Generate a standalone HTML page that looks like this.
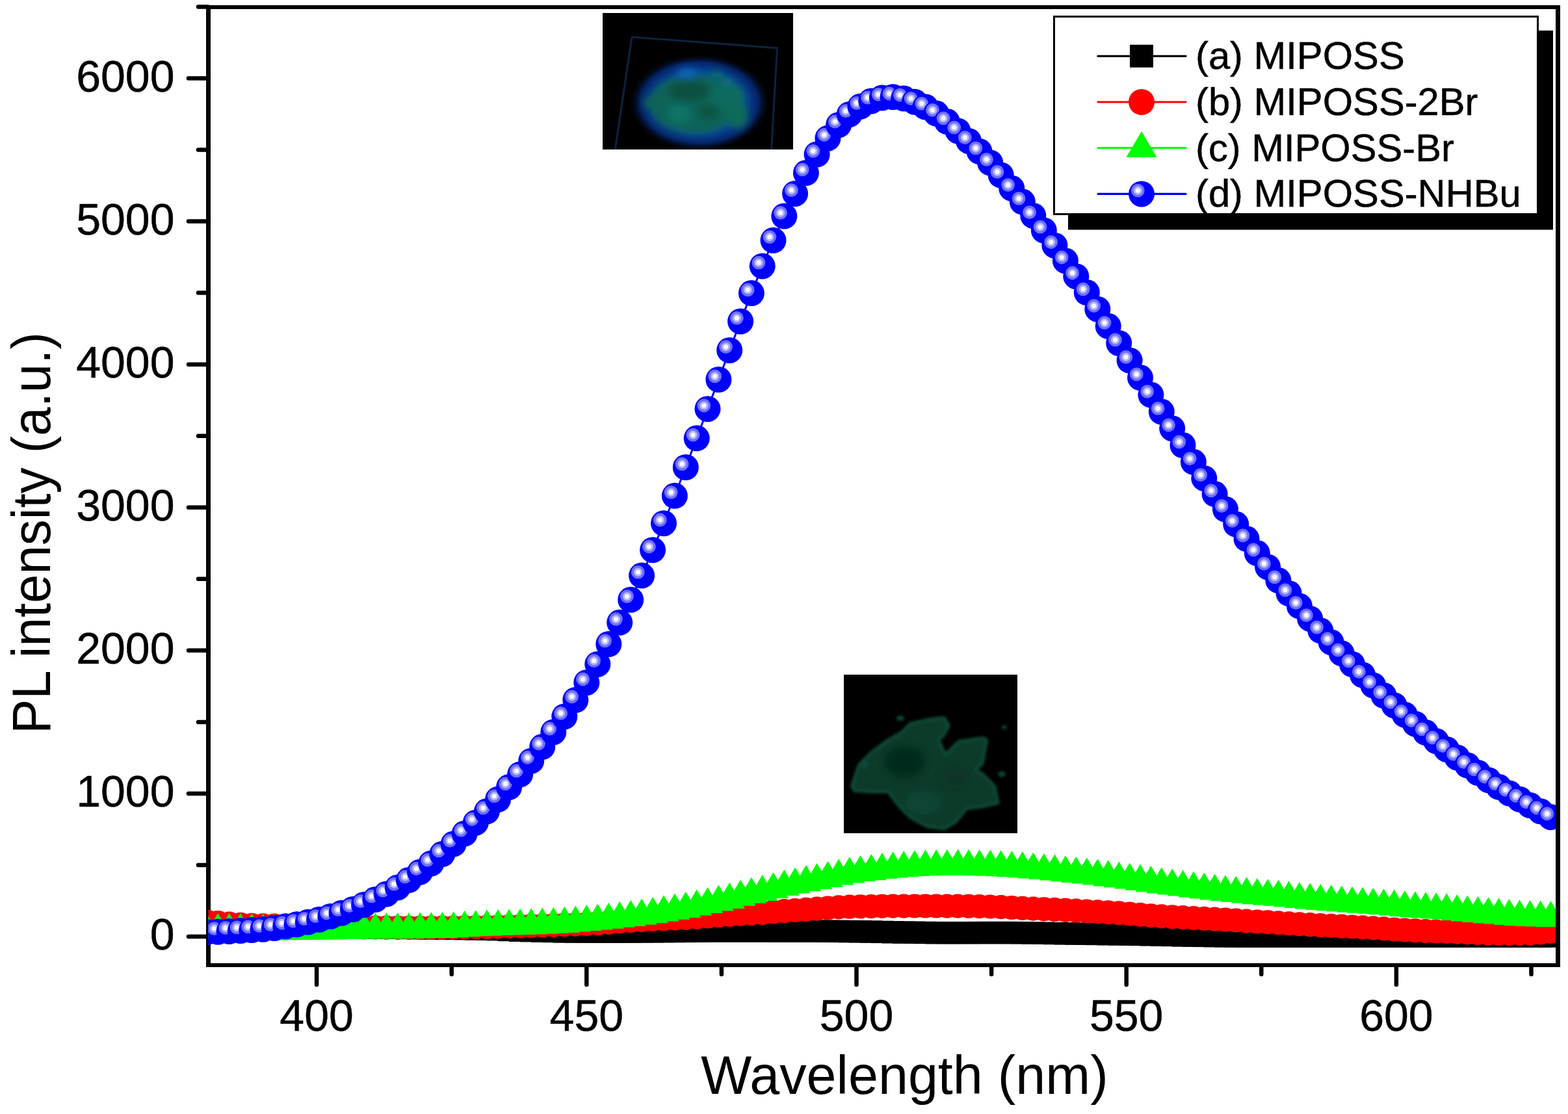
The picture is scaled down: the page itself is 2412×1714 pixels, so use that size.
<!DOCTYPE html><html><head><meta charset="utf-8"><title>PL spectra</title><style>html,body{margin:0;padding:0;background:#fff;overflow:hidden}svg{display:block}</style></head><body>
<svg width="2412" height="1714" viewBox="0 0 2412 1714" font-family="Liberation Sans, Arial, sans-serif">
<defs>
<clipPath id="plot"><rect x="320.5" y="11" width="2072.5" height="1474"/></clipPath>
<g id="ball"><circle r="20" fill="#00f"/><circle cx="-5.7" cy="-5.2" r="10.4" fill="#7070ff"/><circle cx="-5.7" cy="-5.2" r="6.6" fill="#b4b4ff"/><circle cx="-5.7" cy="-5.2" r="3.6" fill="#f8f8ff"/></g>
<filter id="b2" x="-20%" y="-20%" width="140%" height="140%"><feGaussianBlur stdDeviation="2"/></filter>
<filter id="b6" x="-30%" y="-30%" width="160%" height="160%"><feGaussianBlur stdDeviation="6"/></filter>
<filter id="b12" x="-50%" y="-50%" width="200%" height="200%"><feGaussianBlur stdDeviation="12"/></filter>
<radialGradient id="glow" cx="50%" cy="50%" r="50%"><stop offset="0" stop-color="#0a5a80"/><stop offset="0.6" stop-color="#0848a4"/><stop offset="0.82" stop-color="#052468"/><stop offset="1" stop-color="#000" stop-opacity="0"/></radialGradient>
<clipPath id="in1"><rect x="927" y="20" width="293" height="210"/></clipPath>
<clipPath id="in2"><rect x="1298" y="1038" width="267" height="244"/></clipPath>
</defs>
<rect width="2412" height="1714" fill="#fff"/>
<g fill="#000">
<rect x="317" y="8" width="7" height="1480"/>
<rect x="2393" y="8" width="7" height="1480"/>
<rect x="317" y="8" width="2083" height="6"/>
<rect x="317" y="1482" width="2083" height="6"/>
</g>
<g stroke="#000" stroke-width="6.5" stroke-linecap="round">
<line x1="290" y1="1441.0" x2="320" y2="1441.0"/>
<line x1="305" y1="1331.0" x2="320" y2="1331.0"/>
<line x1="290" y1="1220.9" x2="320" y2="1220.9"/>
<line x1="305" y1="1110.9" x2="320" y2="1110.9"/>
<line x1="290" y1="1000.8" x2="320" y2="1000.8"/>
<line x1="305" y1="890.8" x2="320" y2="890.8"/>
<line x1="290" y1="780.8" x2="320" y2="780.8"/>
<line x1="305" y1="670.7" x2="320" y2="670.7"/>
<line x1="290" y1="560.7" x2="320" y2="560.7"/>
<line x1="305" y1="450.6" x2="320" y2="450.6"/>
<line x1="290" y1="340.6" x2="320" y2="340.6"/>
<line x1="305" y1="230.5" x2="320" y2="230.5"/>
<line x1="290" y1="120.5" x2="320" y2="120.5"/>
<line x1="305" y1="10.5" x2="320" y2="10.5"/>
<line x1="487.1" y1="1485" x2="487.1" y2="1515"/>
<line x1="694.7" y1="1485" x2="694.7" y2="1499"/>
<line x1="902.3" y1="1485" x2="902.3" y2="1515"/>
<line x1="1109.9" y1="1485" x2="1109.9" y2="1499"/>
<line x1="1317.5" y1="1485" x2="1317.5" y2="1515"/>
<line x1="1525.1" y1="1485" x2="1525.1" y2="1499"/>
<line x1="1732.7" y1="1485" x2="1732.7" y2="1515"/>
<line x1="1940.3" y1="1485" x2="1940.3" y2="1499"/>
<line x1="2147.9" y1="1485" x2="2147.9" y2="1515"/>
<line x1="2355.5" y1="1485" x2="2355.5" y2="1499"/>
</g>
<g clip-path="url(#plot)">
<polyline points="317.8,1427.3 335.2,1427.3 352.6,1427.3 369.9,1427.3 387.3,1427.4 404.6,1427.4 421.9,1427.4 439.3,1427.4 456.6,1427.4 473.8,1427.4 491.1,1427.4 508.4,1427.4 525.6,1427.5 542.9,1427.5 560.1,1427.5 577.3,1427.5 594.6,1427.5 611.8,1427.7 628.9,1427.9 646.1,1428.1 663.3,1428.4 680.4,1428.6 697.6,1428.9 714.7,1429.1 731.8,1429.4 748.9,1429.7 766,1430.2 783.1,1431 800.1,1431.7 817.2,1432.2 834.2,1432.6 851.3,1433 868.3,1433.4 885.3,1433.5 902.3,1433.6 919.3,1433.6 936.3,1433.7 953.2,1433.6 970.2,1433.6 987.1,1433.4 1004.1,1433.3 1021,1433.2 1037.9,1433 1054.8,1432.9 1071.7,1432.7 1088.5,1432.5 1105.4,1432.4 1122.2,1432.4 1139.1,1432.4 1155.9,1432.4 1172.7,1432.4 1189.5,1432.5 1206.3,1432.5 1223.1,1432.5 1239.9,1432.5 1256.6,1432.6 1273.4,1432.8 1290.1,1432.9 1306.8,1433.1 1323.5,1433.3 1340.2,1433.6 1356.9,1433.9 1373.6,1434.3 1390.2,1434.6 1406.9,1434.8 1423.5,1435 1440.2,1435.2 1456.8,1435.2 1473.4,1435.2 1490,1435.2 1506.6,1435.1 1523.2,1435.1 1539.7,1435.1 1556.3,1435.1 1572.8,1435.3 1589.3,1435.6 1605.8,1435.8 1622.4,1436.1 1638.9,1436.3 1655.3,1436.6 1671.8,1436.8 1688.3,1437 1704.7,1437.3 1721.2,1437.5 1737.6,1437.7 1754,1438 1770.4,1438.3 1786.8,1438.7 1803.2,1439 1819.5,1439.4 1835.9,1439.7 1852.3,1439.9 1868.6,1440.2 1884.9,1440.4 1901.2,1440.5 1917.5,1440.6 1933.8,1440.6 1950.1,1440.6 1966.4,1440.6 1982.6,1440.6 1998.9,1440.6 2015.1,1440.6 2031.3,1440.6 2047.6,1440.6 2063.8,1440.6 2080,1440.6 2096.1,1440.6 2112.3,1440.6 2128.5,1440.6 2144.6,1440.6 2160.8,1440.6 2176.9,1440.6 2193,1440.6 2209.1,1440.6 2225.2,1440.6 2241.3,1440.6 2257.3,1440.6 2273.4,1440.6 2289.5,1440.6 2305.5,1440.6 2321.5,1440.6 2337.5,1440.6 2353.5,1440.6 2369.5,1440.6 2385.5,1440.6" fill="none" stroke="#000" stroke-width="3" stroke-linejoin="round"/>
<g fill="#000"><rect x="300.6" y="1410.1" width="34.4" height="34.4"/><rect x="318" y="1410.1" width="34.4" height="34.4"/><rect x="335.4" y="1410.1" width="34.4" height="34.4"/><rect x="352.7" y="1410.1" width="34.4" height="34.4"/><rect x="370.1" y="1410.2" width="34.4" height="34.4"/><rect x="387.4" y="1410.2" width="34.4" height="34.4"/><rect x="404.7" y="1410.2" width="34.4" height="34.4"/><rect x="422.1" y="1410.2" width="34.4" height="34.4"/><rect x="439.4" y="1410.2" width="34.4" height="34.4"/><rect x="456.6" y="1410.2" width="34.4" height="34.4"/><rect x="473.9" y="1410.2" width="34.4" height="34.4"/><rect x="491.2" y="1410.2" width="34.4" height="34.4"/><rect x="508.4" y="1410.3" width="34.4" height="34.4"/><rect x="525.7" y="1410.3" width="34.4" height="34.4"/><rect x="542.9" y="1410.3" width="34.4" height="34.4"/><rect x="560.1" y="1410.3" width="34.4" height="34.4"/><rect x="577.4" y="1410.3" width="34.4" height="34.4"/><rect x="594.6" y="1410.5" width="34.4" height="34.4"/><rect x="611.7" y="1410.7" width="34.4" height="34.4"/><rect x="628.9" y="1410.9" width="34.4" height="34.4"/><rect x="646.1" y="1411.2" width="34.4" height="34.4"/><rect x="663.2" y="1411.4" width="34.4" height="34.4"/><rect x="680.4" y="1411.7" width="34.4" height="34.4"/><rect x="697.5" y="1411.9" width="34.4" height="34.4"/><rect x="714.6" y="1412.2" width="34.4" height="34.4"/><rect x="731.7" y="1412.5" width="34.4" height="34.4"/><rect x="748.8" y="1413" width="34.4" height="34.4"/><rect x="765.9" y="1413.8" width="34.4" height="34.4"/><rect x="782.9" y="1414.5" width="34.4" height="34.4"/><rect x="800" y="1415" width="34.4" height="34.4"/><rect x="817" y="1415.4" width="34.4" height="34.4"/><rect x="834.1" y="1415.8" width="34.4" height="34.4"/><rect x="851.1" y="1416.2" width="34.4" height="34.4"/><rect x="868.1" y="1416.3" width="34.4" height="34.4"/><rect x="885.1" y="1416.4" width="34.4" height="34.4"/><rect x="902.1" y="1416.4" width="34.4" height="34.4"/><rect x="919.1" y="1416.5" width="34.4" height="34.4"/><rect x="936" y="1416.4" width="34.4" height="34.4"/><rect x="953" y="1416.4" width="34.4" height="34.4"/><rect x="969.9" y="1416.2" width="34.4" height="34.4"/><rect x="986.9" y="1416.1" width="34.4" height="34.4"/><rect x="1003.8" y="1416" width="34.4" height="34.4"/><rect x="1020.7" y="1415.8" width="34.4" height="34.4"/><rect x="1037.6" y="1415.7" width="34.4" height="34.4"/><rect x="1054.5" y="1415.5" width="34.4" height="34.4"/><rect x="1071.3" y="1415.3" width="34.4" height="34.4"/><rect x="1088.2" y="1415.2" width="34.4" height="34.4"/><rect x="1105" y="1415.2" width="34.4" height="34.4"/><rect x="1121.9" y="1415.2" width="34.4" height="34.4"/><rect x="1138.7" y="1415.2" width="34.4" height="34.4"/><rect x="1155.5" y="1415.2" width="34.4" height="34.4"/><rect x="1172.3" y="1415.3" width="34.4" height="34.4"/><rect x="1189.1" y="1415.3" width="34.4" height="34.4"/><rect x="1205.9" y="1415.3" width="34.4" height="34.4"/><rect x="1222.7" y="1415.3" width="34.4" height="34.4"/><rect x="1239.4" y="1415.4" width="34.4" height="34.4"/><rect x="1256.2" y="1415.6" width="34.4" height="34.4"/><rect x="1272.9" y="1415.7" width="34.4" height="34.4"/><rect x="1289.6" y="1415.9" width="34.4" height="34.4"/><rect x="1306.3" y="1416.1" width="34.4" height="34.4"/><rect x="1323" y="1416.4" width="34.4" height="34.4"/><rect x="1339.7" y="1416.7" width="34.4" height="34.4"/><rect x="1356.4" y="1417.1" width="34.4" height="34.4"/><rect x="1373" y="1417.4" width="34.4" height="34.4"/><rect x="1389.7" y="1417.6" width="34.4" height="34.4"/><rect x="1406.3" y="1417.8" width="34.4" height="34.4"/><rect x="1423" y="1418" width="34.4" height="34.4"/><rect x="1439.6" y="1418" width="34.4" height="34.4"/><rect x="1456.2" y="1418" width="34.4" height="34.4"/><rect x="1472.8" y="1418" width="34.4" height="34.4"/><rect x="1489.4" y="1417.9" width="34.4" height="34.4"/><rect x="1506" y="1417.9" width="34.4" height="34.4"/><rect x="1522.5" y="1417.9" width="34.4" height="34.4"/><rect x="1539.1" y="1417.9" width="34.4" height="34.4"/><rect x="1555.6" y="1418.1" width="34.4" height="34.4"/><rect x="1572.1" y="1418.4" width="34.4" height="34.4"/><rect x="1588.6" y="1418.6" width="34.4" height="34.4"/><rect x="1605.2" y="1418.9" width="34.4" height="34.4"/><rect x="1621.7" y="1419.1" width="34.4" height="34.4"/><rect x="1638.1" y="1419.4" width="34.4" height="34.4"/><rect x="1654.6" y="1419.6" width="34.4" height="34.4"/><rect x="1671.1" y="1419.8" width="34.4" height="34.4"/><rect x="1687.5" y="1420.1" width="34.4" height="34.4"/><rect x="1704" y="1420.3" width="34.4" height="34.4"/><rect x="1720.4" y="1420.5" width="34.4" height="34.4"/><rect x="1736.8" y="1420.8" width="34.4" height="34.4"/><rect x="1753.2" y="1421.1" width="34.4" height="34.4"/><rect x="1769.6" y="1421.5" width="34.4" height="34.4"/><rect x="1786" y="1421.8" width="34.4" height="34.4"/><rect x="1802.3" y="1422.2" width="34.4" height="34.4"/><rect x="1818.7" y="1422.5" width="34.4" height="34.4"/><rect x="1835.1" y="1422.7" width="34.4" height="34.4"/><rect x="1851.4" y="1423" width="34.4" height="34.4"/><rect x="1867.7" y="1423.2" width="34.4" height="34.4"/><rect x="1884" y="1423.3" width="34.4" height="34.4"/><rect x="1900.3" y="1423.4" width="34.4" height="34.4"/><rect x="1916.6" y="1423.4" width="34.4" height="34.4"/><rect x="1932.9" y="1423.4" width="34.4" height="34.4"/><rect x="1949.2" y="1423.4" width="34.4" height="34.4"/><rect x="1965.4" y="1423.4" width="34.4" height="34.4"/><rect x="1981.7" y="1423.4" width="34.4" height="34.4"/><rect x="1997.9" y="1423.4" width="34.4" height="34.4"/><rect x="2014.1" y="1423.4" width="34.4" height="34.4"/><rect x="2030.4" y="1423.4" width="34.4" height="34.4"/><rect x="2046.6" y="1423.4" width="34.4" height="34.4"/><rect x="2062.8" y="1423.4" width="34.4" height="34.4"/><rect x="2078.9" y="1423.4" width="34.4" height="34.4"/><rect x="2095.1" y="1423.4" width="34.4" height="34.4"/><rect x="2111.3" y="1423.4" width="34.4" height="34.4"/><rect x="2127.4" y="1423.4" width="34.4" height="34.4"/><rect x="2143.6" y="1423.4" width="34.4" height="34.4"/><rect x="2159.7" y="1423.4" width="34.4" height="34.4"/><rect x="2175.8" y="1423.4" width="34.4" height="34.4"/><rect x="2191.9" y="1423.4" width="34.4" height="34.4"/><rect x="2208" y="1423.4" width="34.4" height="34.4"/><rect x="2224.1" y="1423.4" width="34.4" height="34.4"/><rect x="2240.1" y="1423.4" width="34.4" height="34.4"/><rect x="2256.2" y="1423.4" width="34.4" height="34.4"/><rect x="2272.3" y="1423.4" width="34.4" height="34.4"/><rect x="2288.3" y="1423.4" width="34.4" height="34.4"/><rect x="2304.3" y="1423.4" width="34.4" height="34.4"/><rect x="2320.3" y="1423.4" width="34.4" height="34.4"/><rect x="2336.3" y="1423.4" width="34.4" height="34.4"/><rect x="2352.3" y="1423.4" width="34.4" height="34.4"/><rect x="2368.3" y="1423.4" width="34.4" height="34.4"/></g>
<polyline points="317.8,1417.7 335.2,1419.5 352.6,1421.1 369.9,1422.4 387.3,1423.4 404.6,1423.9 421.9,1424 439.3,1424.3 456.6,1424.6 473.8,1425 491.1,1425.5 508.4,1425.9 525.6,1426.2 542.9,1426.5 560.1,1426.8 577.3,1427 594.6,1427.2 611.8,1427.3 628.9,1427.4 646.1,1427.4 663.3,1427.3 680.4,1427.2 697.6,1427 714.7,1426.7 731.8,1426.5 748.9,1426.2 766,1425.8 783.1,1425.4 800.1,1425 817.2,1424.5 834.2,1424 851.3,1423.4 868.3,1422.7 885.3,1422.1 902.3,1421.3 919.3,1420.5 936.3,1419.3 953.2,1417.9 970.2,1416.6 987.1,1415.5 1004.1,1414.5 1021,1413.7 1037.9,1413.1 1054.8,1412.3 1071.7,1411.2 1088.5,1410 1105.4,1408.7 1122.2,1407.4 1139.1,1406.2 1155.9,1405.3 1172.7,1404.3 1189.5,1403 1206.3,1401.7 1223.1,1400.6 1239.9,1399.4 1256.6,1398.2 1273.4,1397 1290.1,1395.9 1306.8,1395.2 1323.5,1394.8 1340.2,1394.6 1356.9,1394.3 1373.6,1394.1 1390.2,1394.1 1406.9,1394 1423.5,1394 1440.2,1394 1456.8,1394.1 1473.4,1394.1 1490,1394.3 1506.6,1394.6 1523.2,1395 1539.7,1395.6 1556.3,1396.5 1572.8,1397.4 1589.3,1398.1 1605.8,1398.8 1622.4,1399.5 1638.9,1400.3 1655.3,1401.1 1671.8,1402 1688.3,1402.9 1704.7,1403.8 1721.2,1404.8 1737.6,1406 1754,1407.4 1770.4,1408.8 1786.8,1409.9 1803.2,1410.8 1819.5,1411.6 1835.9,1412.5 1852.3,1413.4 1868.6,1414.2 1884.9,1415 1901.2,1416 1917.5,1417.1 1933.8,1418 1950.1,1418.8 1966.4,1419.9 1982.6,1420.9 1998.9,1421.9 2015.1,1422.7 2031.3,1423.6 2047.6,1424.4 2063.8,1425.2 2080,1426 2096.1,1426.9 2112.3,1427.9 2128.5,1428.9 2144.6,1430 2160.8,1431 2176.9,1431.8 2193,1432.5 2209.1,1433 2225.2,1433.4 2241.3,1434.1 2257.3,1434.9 2273.4,1435.5 2289.5,1436 2305.5,1436.2 2321.5,1436.4 2337.5,1436.4 2353.5,1436.1 2369.5,1435 2385.5,1433.3" fill="none" stroke="#f00" stroke-width="3" stroke-linejoin="round"/>
<g fill="#f00"><circle cx="317.8" cy="1417.7" r="18.6"/><circle cx="335.2" cy="1419.5" r="18.6"/><circle cx="352.6" cy="1421.1" r="18.6"/><circle cx="369.9" cy="1422.4" r="18.6"/><circle cx="387.3" cy="1423.4" r="18.6"/><circle cx="404.6" cy="1423.9" r="18.6"/><circle cx="421.9" cy="1424" r="18.6"/><circle cx="439.3" cy="1424.3" r="18.6"/><circle cx="456.6" cy="1424.6" r="18.6"/><circle cx="473.8" cy="1425" r="18.6"/><circle cx="491.1" cy="1425.5" r="18.6"/><circle cx="508.4" cy="1425.9" r="18.6"/><circle cx="525.6" cy="1426.2" r="18.6"/><circle cx="542.9" cy="1426.5" r="18.6"/><circle cx="560.1" cy="1426.8" r="18.6"/><circle cx="577.3" cy="1427" r="18.6"/><circle cx="594.6" cy="1427.2" r="18.6"/><circle cx="611.8" cy="1427.3" r="18.6"/><circle cx="628.9" cy="1427.4" r="18.6"/><circle cx="646.1" cy="1427.4" r="18.6"/><circle cx="663.3" cy="1427.3" r="18.6"/><circle cx="680.4" cy="1427.2" r="18.6"/><circle cx="697.6" cy="1427" r="18.6"/><circle cx="714.7" cy="1426.7" r="18.6"/><circle cx="731.8" cy="1426.5" r="18.6"/><circle cx="748.9" cy="1426.2" r="18.6"/><circle cx="766" cy="1425.8" r="18.6"/><circle cx="783.1" cy="1425.4" r="18.6"/><circle cx="800.1" cy="1425" r="18.6"/><circle cx="817.2" cy="1424.5" r="18.6"/><circle cx="834.2" cy="1424" r="18.6"/><circle cx="851.3" cy="1423.4" r="18.6"/><circle cx="868.3" cy="1422.7" r="18.6"/><circle cx="885.3" cy="1422.1" r="18.6"/><circle cx="902.3" cy="1421.3" r="18.6"/><circle cx="919.3" cy="1420.5" r="18.6"/><circle cx="936.3" cy="1419.3" r="18.6"/><circle cx="953.2" cy="1417.9" r="18.6"/><circle cx="970.2" cy="1416.6" r="18.6"/><circle cx="987.1" cy="1415.5" r="18.6"/><circle cx="1004.1" cy="1414.5" r="18.6"/><circle cx="1021" cy="1413.7" r="18.6"/><circle cx="1037.9" cy="1413.1" r="18.6"/><circle cx="1054.8" cy="1412.3" r="18.6"/><circle cx="1071.7" cy="1411.2" r="18.6"/><circle cx="1088.5" cy="1410" r="18.6"/><circle cx="1105.4" cy="1408.7" r="18.6"/><circle cx="1122.2" cy="1407.4" r="18.6"/><circle cx="1139.1" cy="1406.2" r="18.6"/><circle cx="1155.9" cy="1405.3" r="18.6"/><circle cx="1172.7" cy="1404.3" r="18.6"/><circle cx="1189.5" cy="1403" r="18.6"/><circle cx="1206.3" cy="1401.7" r="18.6"/><circle cx="1223.1" cy="1400.6" r="18.6"/><circle cx="1239.9" cy="1399.4" r="18.6"/><circle cx="1256.6" cy="1398.2" r="18.6"/><circle cx="1273.4" cy="1397" r="18.6"/><circle cx="1290.1" cy="1395.9" r="18.6"/><circle cx="1306.8" cy="1395.2" r="18.6"/><circle cx="1323.5" cy="1394.8" r="18.6"/><circle cx="1340.2" cy="1394.6" r="18.6"/><circle cx="1356.9" cy="1394.3" r="18.6"/><circle cx="1373.6" cy="1394.1" r="18.6"/><circle cx="1390.2" cy="1394.1" r="18.6"/><circle cx="1406.9" cy="1394" r="18.6"/><circle cx="1423.5" cy="1394" r="18.6"/><circle cx="1440.2" cy="1394" r="18.6"/><circle cx="1456.8" cy="1394.1" r="18.6"/><circle cx="1473.4" cy="1394.1" r="18.6"/><circle cx="1490" cy="1394.3" r="18.6"/><circle cx="1506.6" cy="1394.6" r="18.6"/><circle cx="1523.2" cy="1395" r="18.6"/><circle cx="1539.7" cy="1395.6" r="18.6"/><circle cx="1556.3" cy="1396.5" r="18.6"/><circle cx="1572.8" cy="1397.4" r="18.6"/><circle cx="1589.3" cy="1398.1" r="18.6"/><circle cx="1605.8" cy="1398.8" r="18.6"/><circle cx="1622.4" cy="1399.5" r="18.6"/><circle cx="1638.9" cy="1400.3" r="18.6"/><circle cx="1655.3" cy="1401.1" r="18.6"/><circle cx="1671.8" cy="1402" r="18.6"/><circle cx="1688.3" cy="1402.9" r="18.6"/><circle cx="1704.7" cy="1403.8" r="18.6"/><circle cx="1721.2" cy="1404.8" r="18.6"/><circle cx="1737.6" cy="1406" r="18.6"/><circle cx="1754" cy="1407.4" r="18.6"/><circle cx="1770.4" cy="1408.8" r="18.6"/><circle cx="1786.8" cy="1409.9" r="18.6"/><circle cx="1803.2" cy="1410.8" r="18.6"/><circle cx="1819.5" cy="1411.6" r="18.6"/><circle cx="1835.9" cy="1412.5" r="18.6"/><circle cx="1852.3" cy="1413.4" r="18.6"/><circle cx="1868.6" cy="1414.2" r="18.6"/><circle cx="1884.9" cy="1415" r="18.6"/><circle cx="1901.2" cy="1416" r="18.6"/><circle cx="1917.5" cy="1417.1" r="18.6"/><circle cx="1933.8" cy="1418" r="18.6"/><circle cx="1950.1" cy="1418.8" r="18.6"/><circle cx="1966.4" cy="1419.9" r="18.6"/><circle cx="1982.6" cy="1420.9" r="18.6"/><circle cx="1998.9" cy="1421.9" r="18.6"/><circle cx="2015.1" cy="1422.7" r="18.6"/><circle cx="2031.3" cy="1423.6" r="18.6"/><circle cx="2047.6" cy="1424.4" r="18.6"/><circle cx="2063.8" cy="1425.2" r="18.6"/><circle cx="2080" cy="1426" r="18.6"/><circle cx="2096.1" cy="1426.9" r="18.6"/><circle cx="2112.3" cy="1427.9" r="18.6"/><circle cx="2128.5" cy="1428.9" r="18.6"/><circle cx="2144.6" cy="1430" r="18.6"/><circle cx="2160.8" cy="1431" r="18.6"/><circle cx="2176.9" cy="1431.8" r="18.6"/><circle cx="2193" cy="1432.5" r="18.6"/><circle cx="2209.1" cy="1433" r="18.6"/><circle cx="2225.2" cy="1433.4" r="18.6"/><circle cx="2241.3" cy="1434.1" r="18.6"/><circle cx="2257.3" cy="1434.9" r="18.6"/><circle cx="2273.4" cy="1435.5" r="18.6"/><circle cx="2289.5" cy="1436" r="18.6"/><circle cx="2305.5" cy="1436.2" r="18.6"/><circle cx="2321.5" cy="1436.4" r="18.6"/><circle cx="2337.5" cy="1436.4" r="18.6"/><circle cx="2353.5" cy="1436.1" r="18.6"/><circle cx="2369.5" cy="1435" r="18.6"/><circle cx="2385.5" cy="1433.3" r="18.6"/></g>
<polyline points="317.8,1430.7 335.2,1430.7 352.6,1430.7 369.9,1430.7 387.3,1431 404.6,1431.5 421.9,1431.9 439.3,1431.8 456.6,1431.6 473.8,1431.3 491.1,1431.1 508.4,1430.9 525.6,1430.6 542.9,1430.3 560.1,1430 577.3,1429.8 594.6,1429.7 611.8,1429.7 628.9,1429.5 646.1,1429 663.3,1428.8 680.4,1428.6 697.6,1427.8 714.7,1426.7 731.8,1425.8 748.9,1425.2 766,1424.6 783.1,1424.1 800.1,1423.5 817.2,1422.9 834.2,1422.2 851.3,1421.4 868.3,1420.4 885.3,1419 902.3,1417.6 919.3,1416.1 936.3,1414.3 953.2,1412.3 970.2,1410.4 987.1,1408.2 1004.1,1405.7 1021,1402.9 1037.9,1400.2 1054.8,1397.4 1071.7,1394.1 1088.5,1390.6 1105.4,1387.1 1122.2,1383.4 1139.1,1379.2 1155.9,1375.3 1172.7,1371.5 1189.5,1367.5 1206.3,1363.6 1223.1,1360 1239.9,1356.7 1256.6,1353.6 1273.4,1350.4 1290.1,1347 1306.8,1343.9 1323.5,1341.6 1340.2,1339.7 1356.9,1337.6 1373.6,1335.9 1390.2,1334.6 1406.9,1333.6 1423.5,1332.8 1440.2,1332.6 1456.8,1332.3 1473.4,1332.1 1490,1332.4 1506.6,1332.7 1523.2,1333 1539.7,1333.7 1556.3,1334.7 1572.8,1335.7 1589.3,1337 1605.8,1338.5 1622.4,1340 1638.9,1341.8 1655.3,1343.5 1671.8,1345 1688.3,1346.9 1704.7,1348.9 1721.2,1351 1737.6,1353 1754,1355.2 1770.4,1357.7 1786.8,1360 1803.2,1362 1819.5,1364.1 1835.9,1366.1 1852.3,1368.1 1868.6,1370.1 1884.9,1371.8 1901.2,1373.3 1917.5,1375 1933.8,1376.7 1950.1,1377.9 1966.4,1379.2 1982.6,1380.8 1998.9,1382.5 2015.1,1384 2031.3,1385.5 2047.6,1386.8 2063.8,1388.1 2080,1389.3 2096.1,1390.3 2112.3,1391.5 2128.5,1392.8 2144.6,1394 2160.8,1395.5 2176.9,1396.9 2193,1397.9 2209.1,1398.9 2225.2,1400.1 2241.3,1401.6 2257.3,1403.1 2273.4,1404.6 2289.5,1405.9 2305.5,1407.1 2321.5,1408.6 2337.5,1409.8 2353.5,1410.6 2369.5,1411.1 2385.5,1411.7" fill="none" stroke="#0f0" stroke-width="3" stroke-linejoin="round"/>
<g fill="#0f0"><path d="M317.8 1405.1L341.4 1445.2H294.2Z"/><path d="M335.2 1405.1L358.8 1445.2H311.6Z"/><path d="M352.6 1405.1L376.2 1445.2H329Z"/><path d="M369.9 1405.1L393.5 1445.2H346.3Z"/><path d="M387.3 1405.4L410.9 1445.5H363.7Z"/><path d="M404.6 1405.9L428.2 1446H381Z"/><path d="M421.9 1406.3L445.5 1446.4H398.3Z"/><path d="M439.3 1406.2L462.9 1446.3H415.7Z"/><path d="M456.6 1406L480.2 1446.1H433Z"/><path d="M473.8 1405.7L497.4 1445.8H450.2Z"/><path d="M491.1 1405.5L514.7 1445.6H467.5Z"/><path d="M508.4 1405.3L532 1445.4H484.8Z"/><path d="M525.6 1405L549.2 1445.1H502Z"/><path d="M542.9 1404.7L566.5 1444.8H519.3Z"/><path d="M560.1 1404.4L583.7 1444.5H536.5Z"/><path d="M577.3 1404.2L600.9 1444.3H553.7Z"/><path d="M594.6 1404.1L618.2 1444.2H571Z"/><path d="M611.8 1404.1L635.4 1444.2H588.2Z"/><path d="M628.9 1403.9L652.5 1444H605.3Z"/><path d="M646.1 1403.4L669.7 1443.5H622.5Z"/><path d="M663.3 1403.2L686.9 1443.3H639.7Z"/><path d="M680.4 1403L704 1443.1H656.8Z"/><path d="M697.6 1402.2L721.2 1442.3H674Z"/><path d="M714.7 1401.1L738.3 1441.2H691.1Z"/><path d="M731.8 1400.2L755.4 1440.3H708.2Z"/><path d="M748.9 1399.6L772.5 1439.7H725.3Z"/><path d="M766 1399L789.6 1439.1H742.4Z"/><path d="M783.1 1398.5L806.7 1438.6H759.5Z"/><path d="M800.1 1397.9L823.7 1438H776.5Z"/><path d="M817.2 1397.3L840.8 1437.4H793.6Z"/><path d="M834.2 1396.6L857.8 1436.7H810.6Z"/><path d="M851.3 1395.8L874.9 1435.9H827.7Z"/><path d="M868.3 1394.8L891.9 1434.9H844.7Z"/><path d="M885.3 1393.4L908.9 1433.5H861.7Z"/><path d="M902.3 1392L925.9 1432.1H878.7Z"/><path d="M919.3 1390.5L942.9 1430.6H895.7Z"/><path d="M936.3 1388.7L959.9 1428.8H912.7Z"/><path d="M953.2 1386.7L976.8 1426.8H929.6Z"/><path d="M970.2 1384.8L993.8 1424.9H946.6Z"/><path d="M987.1 1382.6L1010.7 1422.7H963.5Z"/><path d="M1004.1 1380.1L1027.7 1420.2H980.5Z"/><path d="M1021 1377.3L1044.6 1417.4H997.4Z"/><path d="M1037.9 1374.6L1061.5 1414.7H1014.3Z"/><path d="M1054.8 1371.8L1078.4 1411.9H1031.2Z"/><path d="M1071.7 1368.5L1095.3 1408.6H1048.1Z"/><path d="M1088.5 1365L1112.1 1405.1H1064.9Z"/><path d="M1105.4 1361.5L1129 1401.6H1081.8Z"/><path d="M1122.2 1357.8L1145.8 1397.9H1098.6Z"/><path d="M1139.1 1353.6L1162.7 1393.7H1115.5Z"/><path d="M1155.9 1349.7L1179.5 1389.8H1132.3Z"/><path d="M1172.7 1345.9L1196.3 1386H1149.1Z"/><path d="M1189.5 1341.9L1213.1 1382H1165.9Z"/><path d="M1206.3 1338L1229.9 1378.1H1182.7Z"/><path d="M1223.1 1334.4L1246.7 1374.5H1199.5Z"/><path d="M1239.9 1331.1L1263.5 1371.2H1216.3Z"/><path d="M1256.6 1328L1280.2 1368.1H1233Z"/><path d="M1273.4 1324.8L1297 1364.9H1249.8Z"/><path d="M1290.1 1321.4L1313.7 1361.5H1266.5Z"/><path d="M1306.8 1318.3L1330.4 1358.4H1283.2Z"/><path d="M1323.5 1316L1347.1 1356.1H1299.9Z"/><path d="M1340.2 1314.1L1363.8 1354.2H1316.6Z"/><path d="M1356.9 1312L1380.5 1352.1H1333.3Z"/><path d="M1373.6 1310.3L1397.2 1350.4H1350Z"/><path d="M1390.2 1309L1413.8 1349.1H1366.6Z"/><path d="M1406.9 1308L1430.5 1348.1H1383.3Z"/><path d="M1423.5 1307.2L1447.1 1347.3H1399.9Z"/><path d="M1440.2 1307L1463.8 1347.1H1416.6Z"/><path d="M1456.8 1306.7L1480.4 1346.8H1433.2Z"/><path d="M1473.4 1306.5L1497 1346.6H1449.8Z"/><path d="M1490 1306.8L1513.6 1346.9H1466.4Z"/><path d="M1506.6 1307.1L1530.2 1347.2H1483Z"/><path d="M1523.2 1307.4L1546.8 1347.5H1499.6Z"/><path d="M1539.7 1308.1L1563.3 1348.2H1516.1Z"/><path d="M1556.3 1309.1L1579.9 1349.2H1532.7Z"/><path d="M1572.8 1310.1L1596.4 1350.2H1549.2Z"/><path d="M1589.3 1311.4L1612.9 1351.5H1565.7Z"/><path d="M1605.8 1312.9L1629.4 1353H1582.2Z"/><path d="M1622.4 1314.4L1646 1354.5H1598.8Z"/><path d="M1638.9 1316.2L1662.5 1356.3H1615.3Z"/><path d="M1655.3 1317.9L1678.9 1358H1631.7Z"/><path d="M1671.8 1319.4L1695.4 1359.5H1648.2Z"/><path d="M1688.3 1321.3L1711.9 1361.4H1664.7Z"/><path d="M1704.7 1323.3L1728.3 1363.4H1681.1Z"/><path d="M1721.2 1325.4L1744.8 1365.5H1697.6Z"/><path d="M1737.6 1327.4L1761.2 1367.5H1714Z"/><path d="M1754 1329.6L1777.6 1369.7H1730.4Z"/><path d="M1770.4 1332.1L1794 1372.2H1746.8Z"/><path d="M1786.8 1334.4L1810.4 1374.5H1763.2Z"/><path d="M1803.2 1336.4L1826.8 1376.5H1779.6Z"/><path d="M1819.5 1338.5L1843.1 1378.6H1795.9Z"/><path d="M1835.9 1340.5L1859.5 1380.6H1812.3Z"/><path d="M1852.3 1342.5L1875.9 1382.6H1828.7Z"/><path d="M1868.6 1344.5L1892.2 1384.6H1845Z"/><path d="M1884.9 1346.2L1908.5 1386.3H1861.3Z"/><path d="M1901.2 1347.7L1924.8 1387.8H1877.6Z"/><path d="M1917.5 1349.4L1941.1 1389.5H1893.9Z"/><path d="M1933.8 1351.1L1957.4 1391.2H1910.2Z"/><path d="M1950.1 1352.3L1973.7 1392.4H1926.5Z"/><path d="M1966.4 1353.6L1990 1393.7H1942.8Z"/><path d="M1982.6 1355.2L2006.2 1395.3H1959Z"/><path d="M1998.9 1356.9L2022.5 1397H1975.3Z"/><path d="M2015.1 1358.4L2038.7 1398.5H1991.5Z"/><path d="M2031.3 1359.9L2054.9 1400H2007.7Z"/><path d="M2047.6 1361.2L2071.2 1401.3H2024Z"/><path d="M2063.8 1362.5L2087.4 1402.6H2040.2Z"/><path d="M2080 1363.7L2103.6 1403.8H2056.4Z"/><path d="M2096.1 1364.7L2119.7 1404.8H2072.5Z"/><path d="M2112.3 1365.9L2135.9 1406H2088.7Z"/><path d="M2128.5 1367.2L2152.1 1407.3H2104.9Z"/><path d="M2144.6 1368.4L2168.2 1408.5H2121Z"/><path d="M2160.8 1369.9L2184.4 1410H2137.2Z"/><path d="M2176.9 1371.3L2200.5 1411.4H2153.3Z"/><path d="M2193 1372.3L2216.6 1412.4H2169.4Z"/><path d="M2209.1 1373.3L2232.7 1413.4H2185.5Z"/><path d="M2225.2 1374.5L2248.8 1414.6H2201.6Z"/><path d="M2241.3 1376L2264.9 1416.1H2217.7Z"/><path d="M2257.3 1377.5L2280.9 1417.6H2233.7Z"/><path d="M2273.4 1379L2297 1419.1H2249.8Z"/><path d="M2289.5 1380.3L2313.1 1420.4H2265.9Z"/><path d="M2305.5 1381.5L2329.1 1421.6H2281.9Z"/><path d="M2321.5 1383L2345.1 1423.1H2297.9Z"/><path d="M2337.5 1384.2L2361.1 1424.3H2313.9Z"/><path d="M2353.5 1385L2377.1 1425.1H2329.9Z"/><path d="M2369.5 1385.5L2393.1 1425.6H2345.9Z"/><path d="M2385.5 1386.1L2409.1 1426.2H2361.9Z"/></g>
<polyline points="317.8,1434.2 335.2,1433.8 352.6,1432.9 369.9,1432.1 387.3,1431.1 404.6,1429.8 421.9,1427.9 439.3,1425.2 456.6,1422.2 473.8,1418.8 491.1,1414.8 508.4,1410.1 525.6,1404.8 542.9,1398.9 560.1,1391.9 577.3,1384.1 594.6,1375.4 611.8,1365.4 628.9,1354.1 646.1,1341.7 663.3,1328.4 680.4,1314 697.6,1298.6 714.7,1282.5 731.8,1265.7 748.9,1248.3 766,1230 783.1,1211 800.1,1191.4 817.2,1170.7 834.2,1149.1 851.3,1126.4 868.3,1102.5 885.3,1077 902.3,1050.2 919.3,1021.9 936.3,991 953.2,957.8 970.2,922.8 987.1,885.6 1004.1,846.2 1021,805.2 1037.9,762.8 1054.8,719 1071.7,674.3 1088.5,629.2 1105.4,584 1122.2,538.9 1139.1,494.5 1155.9,451.1 1172.7,409.4 1189.5,369.8 1206.3,332.6 1223.1,297.9 1239.9,266.1 1256.6,237.5 1273.4,212.7 1290.1,192.2 1306.8,175.9 1323.5,163.8 1340.2,155.4 1356.9,150.5 1373.6,149.2 1390.2,151.4 1406.9,156.7 1423.5,164.5 1440.2,174.6 1456.8,187.1 1473.4,201.4 1490,216.9 1506.6,233.1 1523.2,250.5 1539.7,269.5 1556.3,289.8 1572.8,310.6 1589.3,331.9 1605.8,354.4 1622.4,377.7 1638.9,401.2 1655.3,425.2 1671.8,450 1688.3,475.7 1704.7,501.8 1721.2,528 1737.6,554.5 1754,581.1 1770.4,607.6 1786.8,633.6 1803.2,659.2 1819.5,685 1835.9,710.8 1852.3,735.9 1868.6,760.1 1884.9,783.5 1901.2,806.6 1917.5,829.1 1933.8,851.1 1950.1,872.4 1966.4,893.1 1982.6,913 1998.9,932.6 2015.1,951.9 2031.3,970.3 2047.6,988.2 2063.8,1005.3 2080,1022 2096.1,1038.5 2112.3,1054.4 2128.5,1070 2144.6,1085.2 2160.8,1099.7 2176.9,1113.7 2193,1127.1 2209.1,1140.2 2225.2,1152.9 2241.3,1165.4 2257.3,1177.5 2273.4,1189 2289.5,1200.2 2305.5,1210.8 2321.5,1220.4 2337.5,1229.7 2353.5,1239.1 2369.5,1248.2 2385.5,1257.2" fill="none" stroke="#00f" stroke-width="3" stroke-linejoin="round"/>
<g><use href="#ball" x="317.8" y="1434.2"/><use href="#ball" x="335.2" y="1433.8"/><use href="#ball" x="352.6" y="1432.9"/><use href="#ball" x="369.9" y="1432.1"/><use href="#ball" x="387.3" y="1431.1"/><use href="#ball" x="404.6" y="1429.8"/><use href="#ball" x="421.9" y="1427.9"/><use href="#ball" x="439.3" y="1425.2"/><use href="#ball" x="456.6" y="1422.2"/><use href="#ball" x="473.8" y="1418.8"/><use href="#ball" x="491.1" y="1414.8"/><use href="#ball" x="508.4" y="1410.1"/><use href="#ball" x="525.6" y="1404.8"/><use href="#ball" x="542.9" y="1398.9"/><use href="#ball" x="560.1" y="1391.9"/><use href="#ball" x="577.3" y="1384.1"/><use href="#ball" x="594.6" y="1375.4"/><use href="#ball" x="611.8" y="1365.4"/><use href="#ball" x="628.9" y="1354.1"/><use href="#ball" x="646.1" y="1341.7"/><use href="#ball" x="663.3" y="1328.4"/><use href="#ball" x="680.4" y="1314"/><use href="#ball" x="697.6" y="1298.6"/><use href="#ball" x="714.7" y="1282.5"/><use href="#ball" x="731.8" y="1265.7"/><use href="#ball" x="748.9" y="1248.3"/><use href="#ball" x="766" y="1230"/><use href="#ball" x="783.1" y="1211"/><use href="#ball" x="800.1" y="1191.4"/><use href="#ball" x="817.2" y="1170.7"/><use href="#ball" x="834.2" y="1149.1"/><use href="#ball" x="851.3" y="1126.4"/><use href="#ball" x="868.3" y="1102.5"/><use href="#ball" x="885.3" y="1077"/><use href="#ball" x="902.3" y="1050.2"/><use href="#ball" x="919.3" y="1021.9"/><use href="#ball" x="936.3" y="991"/><use href="#ball" x="953.2" y="957.8"/><use href="#ball" x="970.2" y="922.8"/><use href="#ball" x="987.1" y="885.6"/><use href="#ball" x="1004.1" y="846.2"/><use href="#ball" x="1021" y="805.2"/><use href="#ball" x="1037.9" y="762.8"/><use href="#ball" x="1054.8" y="719"/><use href="#ball" x="1071.7" y="674.3"/><use href="#ball" x="1088.5" y="629.2"/><use href="#ball" x="1105.4" y="584"/><use href="#ball" x="1122.2" y="538.9"/><use href="#ball" x="1139.1" y="494.5"/><use href="#ball" x="1155.9" y="451.1"/><use href="#ball" x="1172.7" y="409.4"/><use href="#ball" x="1189.5" y="369.8"/><use href="#ball" x="1206.3" y="332.6"/><use href="#ball" x="1223.1" y="297.9"/><use href="#ball" x="1239.9" y="266.1"/><use href="#ball" x="1256.6" y="237.5"/><use href="#ball" x="1273.4" y="212.7"/><use href="#ball" x="1290.1" y="192.2"/><use href="#ball" x="1306.8" y="175.9"/><use href="#ball" x="1323.5" y="163.8"/><use href="#ball" x="1340.2" y="155.4"/><use href="#ball" x="1356.9" y="150.5"/><use href="#ball" x="1373.6" y="149.2"/><use href="#ball" x="1390.2" y="151.4"/><use href="#ball" x="1406.9" y="156.7"/><use href="#ball" x="1423.5" y="164.5"/><use href="#ball" x="1440.2" y="174.6"/><use href="#ball" x="1456.8" y="187.1"/><use href="#ball" x="1473.4" y="201.4"/><use href="#ball" x="1490" y="216.9"/><use href="#ball" x="1506.6" y="233.1"/><use href="#ball" x="1523.2" y="250.5"/><use href="#ball" x="1539.7" y="269.5"/><use href="#ball" x="1556.3" y="289.8"/><use href="#ball" x="1572.8" y="310.6"/><use href="#ball" x="1589.3" y="331.9"/><use href="#ball" x="1605.8" y="354.4"/><use href="#ball" x="1622.4" y="377.7"/><use href="#ball" x="1638.9" y="401.2"/><use href="#ball" x="1655.3" y="425.2"/><use href="#ball" x="1671.8" y="450"/><use href="#ball" x="1688.3" y="475.7"/><use href="#ball" x="1704.7" y="501.8"/><use href="#ball" x="1721.2" y="528"/><use href="#ball" x="1737.6" y="554.5"/><use href="#ball" x="1754" y="581.1"/><use href="#ball" x="1770.4" y="607.6"/><use href="#ball" x="1786.8" y="633.6"/><use href="#ball" x="1803.2" y="659.2"/><use href="#ball" x="1819.5" y="685"/><use href="#ball" x="1835.9" y="710.8"/><use href="#ball" x="1852.3" y="735.9"/><use href="#ball" x="1868.6" y="760.1"/><use href="#ball" x="1884.9" y="783.5"/><use href="#ball" x="1901.2" y="806.6"/><use href="#ball" x="1917.5" y="829.1"/><use href="#ball" x="1933.8" y="851.1"/><use href="#ball" x="1950.1" y="872.4"/><use href="#ball" x="1966.4" y="893.1"/><use href="#ball" x="1982.6" y="913"/><use href="#ball" x="1998.9" y="932.6"/><use href="#ball" x="2015.1" y="951.9"/><use href="#ball" x="2031.3" y="970.3"/><use href="#ball" x="2047.6" y="988.2"/><use href="#ball" x="2063.8" y="1005.3"/><use href="#ball" x="2080" y="1022"/><use href="#ball" x="2096.1" y="1038.5"/><use href="#ball" x="2112.3" y="1054.4"/><use href="#ball" x="2128.5" y="1070"/><use href="#ball" x="2144.6" y="1085.2"/><use href="#ball" x="2160.8" y="1099.7"/><use href="#ball" x="2176.9" y="1113.7"/><use href="#ball" x="2193" y="1127.1"/><use href="#ball" x="2209.1" y="1140.2"/><use href="#ball" x="2225.2" y="1152.9"/><use href="#ball" x="2241.3" y="1165.4"/><use href="#ball" x="2257.3" y="1177.5"/><use href="#ball" x="2273.4" y="1189"/><use href="#ball" x="2289.5" y="1200.2"/><use href="#ball" x="2305.5" y="1210.8"/><use href="#ball" x="2321.5" y="1220.4"/><use href="#ball" x="2337.5" y="1229.7"/><use href="#ball" x="2353.5" y="1239.1"/><use href="#ball" x="2369.5" y="1248.2"/><use href="#ball" x="2385.5" y="1257.2"/></g>
</g>
<g clip-path="url(#in1)">
<rect x="927" y="20" width="293" height="210" fill="#000"/>
<path d="M972 57 L1195.5 74 L1186.5 232 M972 57 L946 232" fill="none" stroke="#0a2440" stroke-width="3"/>
<ellipse cx="1076" cy="158" rx="110" ry="76" fill="url(#glow)"/>
<g filter="url(#b6)"><ellipse cx="1068" cy="160" rx="70" ry="46" fill="#0a6458"/><ellipse cx="1118" cy="150" rx="28" ry="24" fill="#0a6a5e"/><ellipse cx="1008" cy="158" rx="18" ry="12" fill="#0a6456"/><ellipse cx="1135" cy="178" rx="16" ry="20" fill="#0a6a58"/><ellipse cx="1060" cy="140" rx="32" ry="16" fill="#0a5040"/><ellipse cx="1090" cy="172" rx="18" ry="12" fill="#0a5444"/><ellipse cx="1045" cy="175" rx="18" ry="14" fill="#0c7466"/></g>
<g filter="url(#b6)"><ellipse cx="1057" cy="113" rx="16" ry="8" fill="#0a62b8"/><ellipse cx="1102" cy="116" rx="12" ry="6" fill="#0a6e6a"/><ellipse cx="1118" cy="127" rx="10" ry="7" fill="#0a6e78"/></g>
</g>
<g clip-path="url(#in2)">
<rect x="1298" y="1038" width="267" height="244" fill="#000"/>
<path filter="url(#b2)" fill="#0a3a2c" stroke="#0c4838" stroke-width="5" stroke-linejoin="round" d="M1310.2 1209.7 L1321.4 1176.9 L1340.3 1157.9 L1362.8 1140.7 L1386.9 1126.9 L1400.7 1113.1 L1433.4 1106.2 L1452.4 1104.5 L1459.3 1116.6 L1452.4 1130.3 L1443.8 1139.0 L1454.1 1161.4 L1474.8 1140.7 L1512.8 1135.5 L1517.9 1139.0 L1511.0 1175.2 L1500.7 1183.8 L1512.8 1192.4 L1530.0 1209.7 L1535.2 1235.5 L1512.8 1240.7 L1486.9 1244.1 L1469.7 1264.8 L1452.4 1275.2 L1426.6 1271.7 L1400.7 1257.9 L1383.4 1240.7 L1366.2 1218.3 L1340.3 1218.3 L1314.5 1216.6 Z"/>
<g filter="url(#b6)"><ellipse cx="1392" cy="1172" rx="32" ry="24" fill="#062a1e"/><ellipse cx="1468" cy="1198" rx="22" ry="16" fill="#083426"/><ellipse cx="1420" cy="1235" rx="28" ry="18" fill="#0b4434"/></g>
<g fill="#0c4a3a" filter="url(#b2)"><ellipse cx="1385" cy="1105" rx="6" ry="4"/><ellipse cx="1545" cy="1119" rx="4" ry="3"/><ellipse cx="1541" cy="1191" rx="6" ry="4"/><ellipse cx="1330" cy="1177" rx="5" ry="6"/></g>
</g>
<g font-size="68" fill="#000" stroke="#000" stroke-width="0.5">
<text x="268.5" y="1461.3" text-anchor="end">0</text>
<text x="268.5" y="1241.2" text-anchor="end">1000</text>
<text x="268.5" y="1021.1" text-anchor="end">2000</text>
<text x="268.5" y="801.1" text-anchor="end">3000</text>
<text x="268.5" y="581.0" text-anchor="end">4000</text>
<text x="268.5" y="360.9" text-anchor="end">5000</text>
<text x="268.5" y="140.8" text-anchor="end">6000</text>
<text x="487.1" y="1586" text-anchor="middle">400</text>
<text x="902.3" y="1586" text-anchor="middle">450</text>
<text x="1317.5" y="1586" text-anchor="middle">500</text>
<text x="1732.7" y="1586" text-anchor="middle">550</text>
<text x="2147.9" y="1586" text-anchor="middle">600</text>
</g>
<text x="1391.5" y="1682.5" font-size="82.7" text-anchor="middle">Wavelength (nm)</text>
<text transform="translate(77,820) rotate(-90)" font-size="82.5" text-anchor="middle" textLength="618" lengthAdjust="spacingAndGlyphs">PL intensity (a.u.)</text>
<rect x="1643" y="47" width="746" height="306.5" fill="#000"/>
<rect x="1621.5" y="25.5" width="744" height="304" fill="#fff" stroke="#000" stroke-width="3"/>
<line x1="1689" y1="86.3" x2="1824" y2="86.3" stroke="#000" stroke-width="3.2" stroke-linecap="round"/>
<text x="1839" y="106.3" font-size="59.7" stroke="#000" stroke-width="0.5">(a) MIPOSS</text>
<line x1="1689" y1="157.0" x2="1824" y2="157.0" stroke="#f00" stroke-width="3.2" stroke-linecap="round"/>
<text x="1839" y="177.0" font-size="59.7" stroke="#000" stroke-width="0.5">(b) MIPOSS-2Br</text>
<line x1="1689" y1="227.5" x2="1824" y2="227.5" stroke="#0f0" stroke-width="3.2" stroke-linecap="round"/>
<text x="1839" y="247.5" font-size="59.7" stroke="#000" stroke-width="0.5">(c) MIPOSS-Br</text>
<line x1="1689" y1="298.4" x2="1824" y2="298.4" stroke="#00f" stroke-width="3.2" stroke-linecap="round"/>
<text x="1839" y="318.4" font-size="59.7" stroke="#000" stroke-width="0.5">(d) MIPOSS-NHBu</text>
<rect x="1738" y="68.8" width="36" height="35" fill="#000"/>
<circle cx="1756" cy="157.0" r="20" fill="#f00"/>
<path d="M1756 201.9L1779.6 242.0H1732.4Z" fill="#0f0"/>
<use href="#ball" x="1756" y="298.4"/>
</svg></body></html>
